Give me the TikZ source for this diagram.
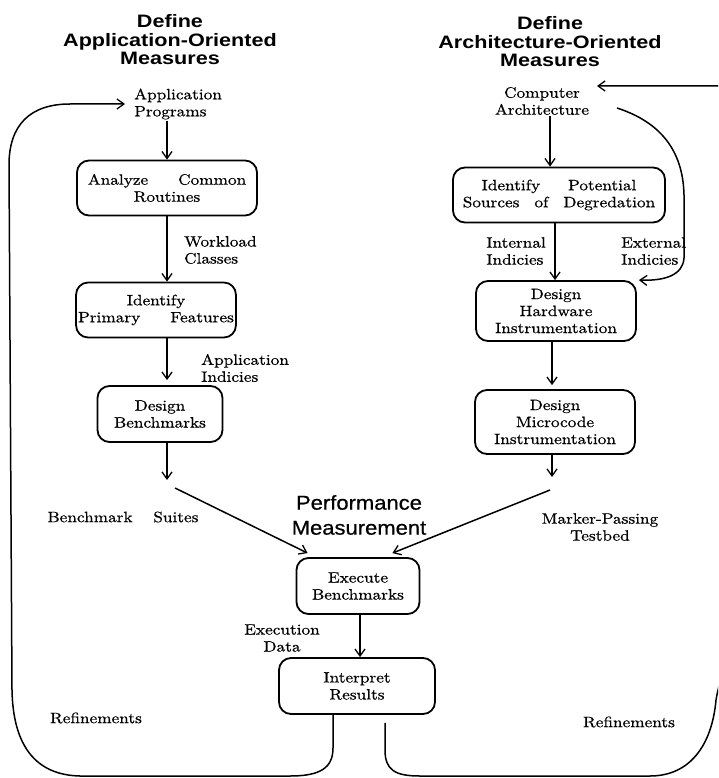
\documentclass[tikz,border=0pt]{standalone}
\usepackage{fontspec}
\setmainfont{lmroman10-regular.otf}[FakeStretch=1.15,FakeBold=0.6]
\newfontfamily\hdfont{Liberation Sans}[FakeStretch=1.2]
\newfontfamily\pmfont{Liberation Sans}[FakeStretch=1.1,FakeBold=0.6]
\usetikzlibrary{arrows.meta}
\begin{document}
\begin{tikzpicture}[x=1pt,y=-1pt,
  every node/.style={font=\fontsize{15}{17}\selectfont, inner sep=1pt},
  box/.style={draw, line width=1.8pt, rounded corners=12pt, align=center, inner sep=2pt},
  lbl/.style={align=center},
  hdr/.style={align=center, font=\hdfont\bfseries\fontsize{18}{18.5}\selectfont},
  arr/.style={line width=1.5pt, -{Straight Barb[length=7pt,width=10pt,line width=1.3pt]}},
]
\useasboundingbox (0,0) rectangle (718,778);
\clip (0,0) rectangle (718,778);

% headers
\node[hdr] (hA) at (170,40) {Define\\Application-Oriented\\Measures};
\node[hdr] (hB) at (550,42) {Define\\Architecture-Oriented\\Measures};
\node[font=\pmfont\fontsize{20}{25}\selectfont, align=center] (pm) at (359,515) {Performance\\Measurement};

% left column
\node[lbl, align=left, anchor=west] (ap) at (133,104) {Application\\Programs};
\node[box, minimum width=180pt, minimum height=55pt] (ac) at (167,188) {Analyze\qquad Common\\Routines};
\node[lbl, align=left, anchor=west] (wl) at (183,250) {Workload\\Classes};
\node[box, minimum width=155pt, minimum height=55pt] (ip) at (156,310) {Identify\\Primary\qquad Features};
\node[lbl, align=left, anchor=west] (ai) at (200,368) {Application\\Indicies};
\node[box, minimum width=125pt, minimum height=56pt] (db) at (160,414) {Design\\Benchmarks};
\node[lbl] (bs) at (123,517) {Benchmark\quad\ Suites};

% right column
\node[lbl] (ca) at (542,101) {Computer\\Architecture};
\node[box, minimum width=212pt, minimum height=55pt] (ipd) at (559,195) {Identify\hspace{28pt}Potential\\Sources\quad of\quad Degredation};
\node[lbl, align=left, anchor=east] (ii) at (547,251) {Internal\\Indicies};
\node[lbl, align=left, anchor=west] (ei) at (620,251) {External\\Indicies};
\node[box, minimum width=160pt, minimum height=60pt] (dh) at (556,311) {Design\\Hardware\\Instrumentation};
\node[box, minimum width=160pt, minimum height=64pt] (dm) at (555,422) {Design\\Microcode\\Instrumentation};
\node[lbl] (mp) at (600,527) {Marker-Passing\\Testbed};

% bottom
\node[box, minimum width=123pt, minimum height=56pt] (eb) at (358,586) {Execute\\Benchmarks};
\node[lbl] (ed) at (282,638) {Execution\\Data};
\node[box, minimum width=156pt, minimum height=56pt] (ir) at (357,686) {Interpret\\Results};
\node[lbl] (r1) at (96,718) {Refinements};
\node[lbl] (r2) at (629,722) {Refinements};

\coordinate (dbe) at (167,480);
\coordinate (s1) at (175,488);
\coordinate (dme) at (552,477);
\coordinate (s2) at (550,490);
\coordinate (cas) at (617,108);
\coordinate (catip) at (597,86);

% left column arrows
\draw[arr] (ap.south -| ac.north) -- (ac.north);
\draw[arr] (ac.south) -- (ac.south |- ip.north);
\draw[arr, shorten >=5pt] (ip.south -| ac.south) -- (ac.south |- db.north);
\draw[arr] (db.south -| ac.south) -- (dbe);
\draw[arr] (s1) -- ([shift={(12,-4)}]eb.north west);

% right column arrows
\draw[arr] ([xshift=8pt]ca.south) -- ([xshift=8pt]ca.south |- ipd.north);
\draw[arr] ([xshift=-4pt]ipd.south) -- ([xshift=-4pt]ipd.south |- dh.north);
\draw[arr, shorten >=4pt] ([xshift=-4pt]dh.south) -- ([xshift=-4pt]dh.south |- dm.north);
\draw[arr] ([xshift=-3pt]dm.south) -- (dme);
\draw[arr] (s2) -- ([shift={(-28,-4)}]eb.north east);
\draw[arr] (cas) .. controls (660,122) and (683,150) .. (684,195) -- (684,258)
  .. controls (683,275) and (665,281) .. ([xshift=2pt]dh.north east);

% center
\draw[arr] ([xshift=2pt]eb.south) -- ([xshift=2pt]eb.south |- ir.north);

% feedback loops
\draw[arr] ([xshift=-24pt]ir.south) -- (333,748) .. controls (333,768) and (320,776) .. (290,776)
  -- (80,776) .. controls (35,775) and (13,745) .. (12,690) -- (9,165)
  .. controls (9,125) and (30,104) .. (70,104) -- ([xshift=-8pt]ap.west);
\draw[arr] ([shift={(28,8)}]ir.south) -- (385,750) .. controls (385,770) and (395,776) .. (420,776)
  -- (650,776) .. controls (690,776) and (712,745) .. (716,700)
  .. controls (722,665) and (738,640) .. (738,600) -- (738,110)
  .. controls (738,95) and (730,86) .. (718,86) -- (catip);
\end{tikzpicture}
\end{document}
